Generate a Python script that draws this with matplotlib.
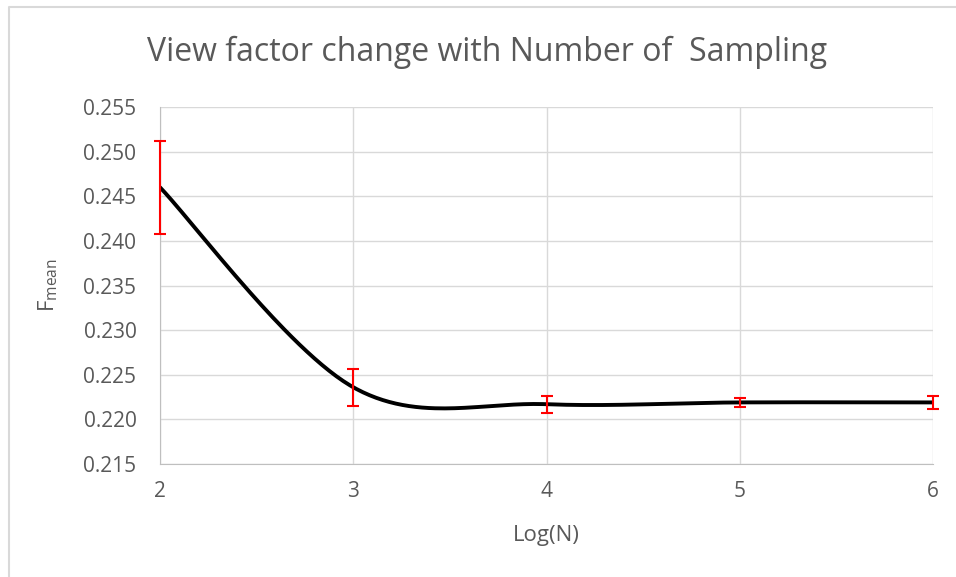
import numpy as np
import matplotlib
matplotlib.use("Agg")
import matplotlib.pyplot as plt
from matplotlib.lines import Line2D

plt.rcParams['font.family'] = ['Open Sans', 'DejaVu Sans']

log_n = [2, 3, 4, 5, 6]
f_mean = [0.2460, 0.2236, 0.2217, 0.2219, 0.2219]
f_err = [0.0052, 0.0021, 0.00095, 0.0005, 0.0007]
x_ticks = [2, 3, 4, 5, 6]
y_ticks = [0.215, 0.220, 0.225, 0.230, 0.235, 0.240, 0.245, 0.250, 0.255]


def smooth_curve(xs, ys, n=60):
    # Bezier segments with Catmull-Rom style control points (spreadsheet "smoothed line")
    xs = np.asarray(xs, float)
    ys = np.asarray(ys, float)
    pts = np.column_stack([xs, ys])
    out = []
    for i in range(len(pts) - 1):
        p0 = pts[i - 1] if i > 0 else pts[i]
        p1 = pts[i]
        p2 = pts[i + 1]
        p3 = pts[i + 2] if i + 2 < len(pts) else pts[i + 1]
        c1 = p1 + (p2 - p0) / 6.0
        c2 = p2 - (p3 - p1) / 6.0
        t = np.linspace(0, 1, n)[:, None]
        seg = ((1 - t) ** 3) * p1 + 3 * ((1 - t) ** 2) * t * c1 + 3 * (1 - t) * t ** 2 * c2 + t ** 3 * p2
        out.append(seg if i == 0 else seg[1:])
    seg = np.vstack(out)
    return seg[:, 0], seg[:, 1]


W, H = 956, 577
fig = plt.figure(figsize=(W / 100, H / 100), dpi=100)

# chart-area frame (left and top edges visible)
fig.add_artist(Line2D([8.5 / W, 8.5 / W, 1.0], [0.0, 1 - 6.5 / H, 1 - 6.5 / H],
                      transform=fig.transFigure, color='#d9d9d9', linewidth=1.5))

ax = fig.add_axes([160 / W, 1 - 464 / H, (933 - 160) / W, (464 - 107) / H])

sx, sy = smooth_curve(log_n, f_mean)
ax.plot(sx, sy, color='black', linewidth=2.8, solid_capstyle='round', zorder=3)
ax.errorbar(log_n, f_mean, yerr=f_err, fmt='none', ecolor='#ff0000',
            elinewidth=1.5, capsize=4.5, capthick=1.5, zorder=4, clip_on=False)

ax.set_xlim(2, 6)
ax.set_ylim(0.215, 0.255)
ax.set_xticks(x_ticks)
ax.set_yticks(y_ticks)
ax.set_yticklabels([f"{v:.3f}" for v in y_ticks])
ax.grid(True, color='#d9d9d9', linewidth=1.0, zorder=0)
ax.set_axisbelow(True)
for s in ['top', 'right']:
    ax.spines[s].set_visible(False)
ax.spines['left'].set_color('#bfbfbf')
ax.spines['bottom'].set_color('#bfbfbf')
ax.tick_params(length=0, labelsize=15, labelcolor='#595959')
ax.tick_params(axis='y', pad=17)
ax.tick_params(axis='x', pad=12)

fig.text(487 / W, 1 - 52 / H, 'View factor change with Number of  Sampling',
         fontsize=23, color='#595959', ha='center', va='center')
ax.set_xlabel('Log(N)', fontsize=16, color='#595959')
ax.xaxis.set_label_coords(0.5, -(536 - 464) / (464 - 107), transform=ax.transAxes)
ax.xaxis.label.set_va('center')
ax.set_ylabel(r'F$_{\mathregular{mean}}$', fontsize=16, color='#595959')
ax.yaxis.set_label_coords(-(160 - 48) / (933 - 160), 0.5, transform=ax.transAxes)
ax.yaxis.label.set_va('center')

fig.savefig('out.png', dpi=100)
